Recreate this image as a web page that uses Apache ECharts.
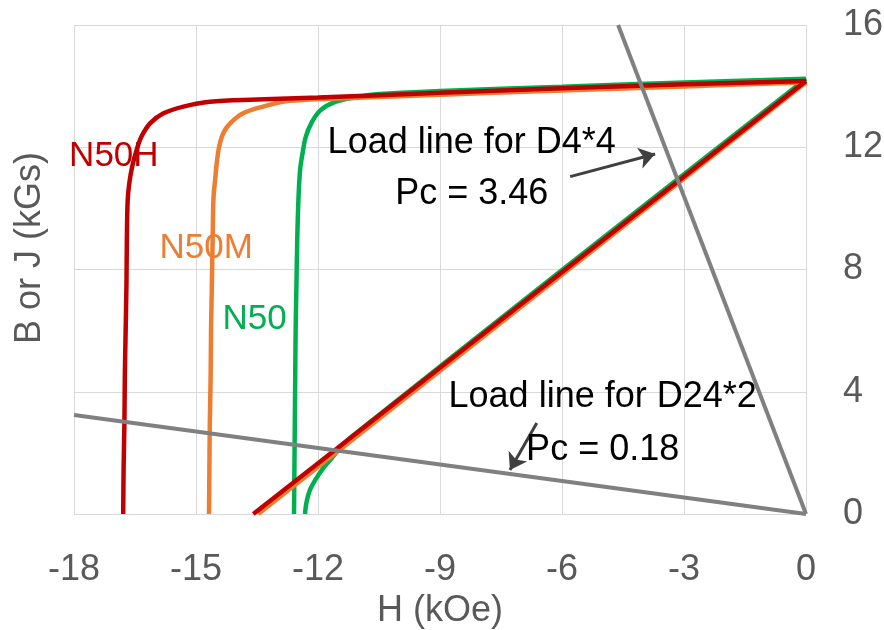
<!DOCTYPE html>
<html>
<head>
<meta charset="utf-8">
<title>Demagnetization curves</title>
<script src="https://cdn.jsdelivr.net/npm/echarts@6/dist/echarts.min.js"></script>
<style>
  html, body { margin: 0; padding: 0; background: #fff; }
  #chart { width: 884px; height: 630px; }
</style>
</head>
<body>
<div id="chart"></div>
<script>
// axis ticks (H in kOe, B or J in kGs)
const xTicks = [-18, -15, -12, -9, -6, -3, 0];
const yTicks = [0, 4, 8, 12, 16];

// intrinsic (J) curves
const n50J = [
  [0, 14.24], [-3, 14.12], [-6, 13.98], [-9, 13.84], [-10.5, 13.74], [-11.13, 13.62],
  [-11.62, 13.46], [-11.95, 13.2], [-12.16, 12.8], [-12.3, 12.35], [-12.38, 11.8],
  [-12.44, 11.26], [-12.48, 10.33], [-12.51, 9], [-12.53, 7.5], [-12.55, 6],
  [-12.56, 4.5], [-12.57, 3], [-12.58, 1.5], [-12.59, 0]
];
const n50mJ = [
  [0, 14.12], [-3, 13.99], [-6, 13.86], [-9, 13.72], [-11, 13.62], [-12.69, 13.52],
  [-13.35, 13.33], [-13.84, 13.11], [-14.16, 12.78], [-14.33, 12.46], [-14.43, 12.02],
  [-14.49, 11.48], [-14.53, 10.93], [-14.57, 10.33], [-14.59, 9], [-14.61, 7.5],
  [-14.63, 6], [-14.64, 4.5], [-14.66, 3], [-14.67, 1.5], [-14.68, 0]
];
const n50hJ = [
  [0, 14.17], [-3, 14.06], [-6, 13.93], [-9, 13.78], [-12, 13.63], [-13.5, 13.56],
  [-14.66, 13.49], [-15.31, 13.33], [-15.8, 13.11], [-16.13, 12.78], [-16.34, 12.35],
  [-16.46, 11.91], [-16.57, 11.36], [-16.64, 10.82], [-16.68, 10.27], [-16.7, 9],
  [-16.71, 7.5], [-16.73, 6], [-16.75, 4.5], [-16.76, 3], [-16.78, 1.5], [-16.79, 0]
];

// normal (B) curves
const n50B = [
  [0, 14.24], [-6, 7.98], [-11.2, 2.5], [-11.45, 2.18], [-11.65, 1.85], [-11.87, 1.5],
  [-12.07, 1.11], [-12.2, 0.78], [-12.28, 0.4], [-12.32, 0]
];
const n50mB = [[0, 14.12], [-13.47, 0]];
const n50hB = [[0, 14.17], [-13.59, 0]];

// load lines
const loadD4x4 = [[0, 0], [-4.62, 16]];
const loadD24x2 = [[0, 0], [-18, 3.24]];

// annotation arrows [tail, tip]
const arrowD4x4 = [[-5.8, 11.04], [-3.71, 11.78]];
const arrowD24x2 = [[-6.62, 2.98], [-7.28, 1.44]];

// annotation texts, anchored in data units
const notes = [
  { text: 'N50H', at: [-17.02, 11.7], color: '#C00000', size: 35 },
  { text: 'N50M', at: [-14.75, 8.7], color: '#ED7D31', size: 35 },
  { text: 'N50', at: [-13.56, 6.38], color: '#00B050', size: 35 },
  { text: 'Load line for D4*4\nPc = 3.46', at: [-8.22, 11.3], color: '#000', size: 36, lh: 51 },
  { text: 'Load line for D24*2\nPc = 0.18', at: [-5.0, 2.96], color: '#000', size: 36, lh: 53 }
];

const FONT = "'Liberation Sans', Arial, sans-serif";
const RED = '#C00000';
const ORANGE = '#ED7D31';
const GREEN = '#00B050';
const GRAY = '#808080';

const curve = (data, color, width, smooth) => ({
  type: 'line',
  data: data,
  showSymbol: false,
  symbol: 'none',
  smooth: smooth,
  silent: true,
  lineStyle: { color: color, width: width },
  z: 3
});

const chart = echarts.init(document.getElementById('chart'));

const option = {
  animation: false,
  backgroundColor: '#fff',
  textStyle: { fontFamily: FONT },
  grid: { left: 74, right: 78, top: 25, bottom: 116, outerBoundsMode: 'none' },
  xAxis: {
    type: 'value',
    min: xTicks[0],
    max: xTicks[xTicks.length - 1],
    interval: xTicks[1] - xTicks[0],
    name: 'H (kOe)',
    nameLocation: 'middle',
    nameGap: 67,
    nameTextStyle: { color: '#595959', fontSize: 36, fontFamily: FONT },
    axisLine: { show: false },
    axisTick: { show: false },
    axisLabel: { color: '#595959', fontSize: 36, margin: 38, fontFamily: FONT },
    splitLine: { lineStyle: { color: '#d9d9d9', width: 1 } }
  },
  yAxis: {
    type: 'value',
    position: 'right',
    min: yTicks[0],
    max: yTicks[yTicks.length - 1],
    interval: yTicks[1] - yTicks[0],
    axisLine: { show: false },
    axisTick: { show: false },
    axisLabel: { color: '#595959', fontSize: 36, margin: 37, fontFamily: FONT },
    splitLine: { lineStyle: { color: '#d9d9d9', width: 1 } }
  },
  series: [
    curve(n50J, GREEN, 4.5, 0.35),
    curve(n50B, GREEN, 4.5, 0.35),
    curve(n50mJ, ORANGE, 4.5, 0.35),
    curve(n50mB, ORANGE, 4.5, false),
    curve(n50hJ, RED, 4.5, 0.35),
    curve(n50hB, RED, 4.5, false),
    curve(loadD4x4, GRAY, 4, false),
    curve(loadD24x2, GRAY, 4, false),
    {
      type: 'lines',
      coordinateSystem: 'cartesian2d',
      silent: true,
      symbol: ['none', 'arrow'],
      symbolSize: 16,
      lineStyle: { color: '#404040', width: 3, opacity: 1, curveness: 0 },
      data: [{ coords: arrowD4x4 }, { coords: arrowD24x2 }],
      z: 5
    }
  ]
};

chart.setOption(option);

// place texts once the grid exists
const graphics = notes.map(n => {
  const p = chart.convertToPixel({ gridIndex: 0 }, n.at);
  return {
    type: 'text',
    x: p[0],
    y: p[1],
    z: 10,
    silent: true,
    style: {
      text: n.text,
      fill: n.color,
      font: n.size + 'px ' + FONT,
      lineHeight: n.lh || n.size,
      textAlign: 'center',
      textVerticalAlign: 'middle'
    }
  };
});

graphics.push({
  type: 'text',
  x: 30,
  y: 248,
  rotation: Math.PI / 2,
  silent: true,
  style: {
    text: 'B or J (kGs)',
    fill: '#595959',
    font: '36px ' + FONT,
    textAlign: 'center',
    textVerticalAlign: 'middle'
  }
});

chart.setOption({ graphic: graphics });
</script>
</body>
</html>
